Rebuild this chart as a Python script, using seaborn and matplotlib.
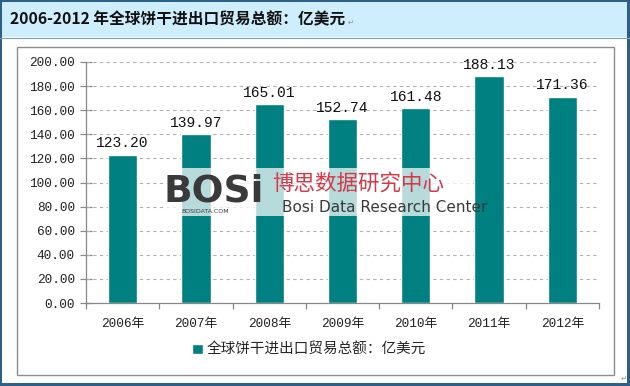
import matplotlib
matplotlib.use("Agg")
import matplotlib.pyplot as plt
from matplotlib.patches import Rectangle
import seaborn as sns
import pandas as pd

years = ["2006年", "2007年", "2008年", "2009年", "2010年", "2011年", "2012年"]
values = [123.20, 139.97, 165.01, 152.74, 161.48, 188.13, 171.36]
series_name = "全球饼干进出口贸易总额：亿美元"
title = "2006-2012 年全球饼干进出口贸易总额：亿美元"
yticks = [0, 20, 40, 60, 80, 100, 120, 140, 160, 180, 200]

sns.set_theme(style="white")
plt.rcParams["font.family"] = ["Noto Sans CJK SC", "DejaVu Sans"]
NUMFONT = ["Liberation Mono", "Noto Sans CJK SC"]

W, H = 630, 386
fig = plt.figure(figsize=(W / 100, H / 100), dpi=100)
fig.patch.set_facecolor("white")

def fx(px):
    return px / W

def fy(py):
    return 1 - py / H

# title band and borders
fig.patches.append(Rectangle((0, fy(37)), 1, fy(2) - fy(37), transform=fig.transFigure,
                             facecolor="#cfeefd", edgecolor="none", zorder=0))
fig.patches.append(Rectangle((0, fy(2)), 1, 2 / H, transform=fig.transFigure,
                             facecolor="#2f5f86", edgecolor="none", zorder=1))
fig.patches.append(Rectangle((0, 0), 1, 3 / H, transform=fig.transFigure,
                             facecolor="#2f5f86", edgecolor="none", zorder=1))
fig.patches.append(Rectangle((0, 0), 2 / W, 1, transform=fig.transFigure,
                             facecolor="#2f5f86", edgecolor="none", zorder=1))
fig.patches.append(Rectangle((fx(627), 0), 3 / W, 1, transform=fig.transFigure,
                             facecolor="#2f5f86", edgecolor="none", zorder=1))
fig.lines.append(plt.Line2D([0, 1], [fy(37.5), fy(37.5)], transform=fig.transFigure,
                            color="#7a9cb5", lw=0.8))
# chart frame
fig.patches.append(Rectangle((fx(17), fy(375)), fx(614) - fx(17), fy(47) - fy(375),
                             transform=fig.transFigure, facecolor="none",
                             edgecolor="#8c8c8c", lw=1.0, zorder=1))

t = fig.text(fx(10), fy(19), title, fontsize=11.3, fontweight="bold", color="#111111",
             va="center", ha="left")
fig.canvas.draw()
bb = t.get_window_extent()
fig.text(bb.x1 / W + 2 / W, fy(22), "↵", fontsize=5.5, color="#999999", va="center",
         family=["DejaVu Sans"])
fig.text(fx(621), fy(378), "↵", fontsize=5.5, color="#999999", va="center",
         family=["DejaVu Sans"])

ax = fig.add_axes([fx(86), fy(303), fx(599) - fx(86), fy(62) - fy(303)])
df = pd.DataFrame({"year": years, "value": values})
sns.barplot(data=df, x="year", y="value", color="#008080", saturation=1,
            width=0.4, ax=ax, label=series_name, zorder=3)

ax.set_ylim(0, 200)
ax.set_xlim(-0.5, len(years) - 0.5)
ax.set_yticks(yticks)
ax.set_yticklabels([f"{v:.2f}" for v in yticks], family=NUMFONT, fontsize=9.2, color="#222222")
ax.set_xticks(range(len(years)))
ax.set_xticklabels(years, family=NUMFONT, fontsize=9.2, color="#222222")
ax.set_xlabel("")
ax.set_ylabel("")
for v in yticks[1:]:
    ax.axhline(v, color="#b0b0b0", lw=0.8, ls=(0, (3, 3)), zorder=1)

for s in ["top", "right"]:
    ax.spines[s].set_visible(False)
for s in ["left", "bottom"]:
    ax.spines[s].set_color("#888888")
    ax.spines[s].set_linewidth(0.9)

ax.tick_params(axis="y", which="major", direction="inout", length=8, width=0.9,
               color="#888888", pad=4, left=True)
ax.tick_params(axis="x", which="major", length=0, pad=11)
ax.set_xticks([i - 0.5 for i in range(len(years) + 1)], minor=True)
ax.tick_params(axis="x", which="minor", direction="out", length=4, width=0.9,
               color="#888888", bottom=True)

for c in ax.containers:
    ax.bar_label(c, labels=[f"{v:.2f}" for v in values], padding=3,
                 family=NUMFONT, fontsize=10.5, color="#111111")

leg = ax.legend(loc="center", bbox_to_anchor=(fx(309), fy(350)),
                bbox_transform=fig.transFigure, frameon=False, fontsize=10.5,
                handlelength=0.75, handleheight=0.75, handletextpad=0.2)

# watermark
fig.patches.append(Rectangle((fx(163), fy(216)), fx(470) - fx(163), fy(168) - fy(216),
                             transform=fig.transFigure, facecolor="white", alpha=0.72,
                             edgecolor="none", zorder=5))
fig.text(fx(163), fy(191), "BOSi", fontsize=27, fontweight="heavy", color="#3a3a3a",
         va="center", ha="left", family=["DejaVu Sans"], zorder=6)
fig.text(fx(181), fy(211), "BOSIDATA.COM", fontsize=4.5, color="#3a3a3a",
         va="center", ha="left", family=["DejaVu Sans"], zorder=6)
fig.text(fx(272), fy(184), "博思数据研究中心", fontsize=15.5, color="#d23a4a",
         va="center", ha="left", zorder=6)
fig.text(fx(282), fy(207), "Bosi Data Research Center", fontsize=11, color="#3a3a3a",
         va="center", ha="left", family=["Liberation Sans Narrow", "DejaVu Sans"], zorder=6)

fig.savefig("out.png", dpi=100)
